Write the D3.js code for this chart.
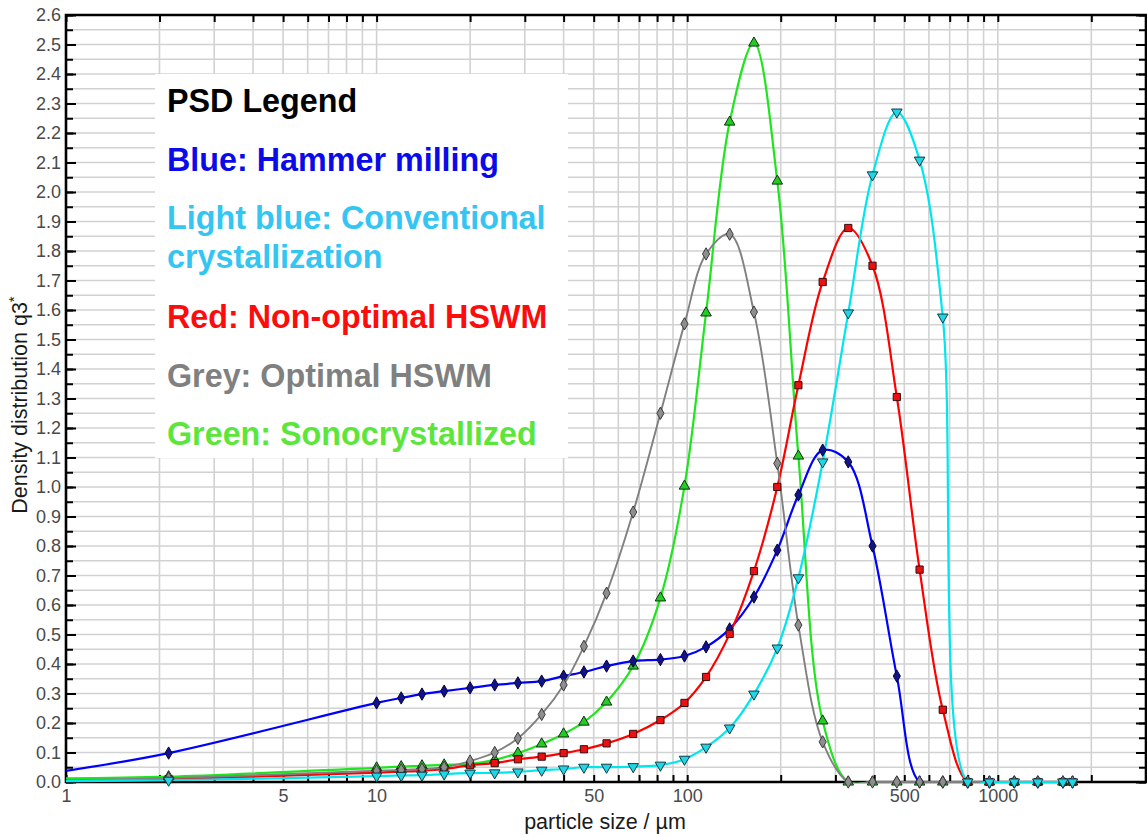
<!DOCTYPE html>
<html><head><meta charset="utf-8">
<script src="https://cdn.jsdelivr.net/npm/d3@7"></script>
<style>body{margin:0;background:#fff} svg{display:block}</style>
</head><body>
<svg id="c" width="1147" height="837"></svg>
<script>
// particle size classes (µm)
const sizes = [1, 2.14, 10, 12, 14, 16.5, 20, 24, 28.5, 34, 40, 46.5, 55, 67, 82, 98, 115, 137, 164, 195, 228, 273, 330, 395, 473, 560, 665, 800, 940, 1130, 1345, 1620, 1740];
// density distribution q3* per series
const hammer = [0.038, 0.098, 0.268, 0.285, 0.298, 0.308, 0.319, 0.329, 0.336, 0.342, 0.359, 0.373, 0.393, 0.41, 0.415, 0.427, 0.458, 0.519, 0.627, 0.786, 0.973, 1.125, 1.085, 0.80, 0.359, 0, 0, 0, 0, 0, 0, 0, 0];
const conventional = [0.003, 0.006, 0.02, 0.022, 0.023, 0.027, 0.03, 0.031, 0.034, 0.04, 0.044, 0.05, 0.05, 0.052, 0.057, 0.077, 0.118, 0.183, 0.298, 0.454, 0.692, 1.085, 1.59, 2.058, 2.271, 2.108, 1.576, 0, 0, 0, 0, 0, 0];
const nonOptimal = [0.005, 0.01, 0.032, 0.035, 0.038, 0.044, 0.057, 0.064, 0.077, 0.086, 0.098, 0.111, 0.131, 0.163, 0.21, 0.268, 0.356, 0.502, 0.715, 1.0, 1.345, 1.695, 1.878, 1.75, 1.305, 0.72, 0.245, 0, 0, 0, 0, 0, 0];
const optimal = [0.005, 0.013, 0.038, 0.041, 0.044, 0.05, 0.071, 0.10, 0.148, 0.229, 0.329, 0.46, 0.64, 0.915, 1.25, 1.553, 1.79, 1.857, 1.593, 1.08, 0.532, 0.136, 0, 0, 0, 0, 0, 0, 0, 0, 0, 0, 0];
const sono = [0.012, 0.018, 0.048, 0.052, 0.055, 0.058, 0.061, 0.075, 0.098, 0.129, 0.163, 0.203, 0.271, 0.393, 0.624, 1.003, 1.59, 2.237, 2.505, 2.037, 1.105, 0.207, 0, 0, 0, 0, 0, 0, 0, 0, 0, 0, 0];

const xLabelValues = [1, 5, 10, 50, 100, 500, 1000];
const yMajorTicks = d3.range(0, 27).map(i => i / 10);
const yMinorTicks = d3.range(0, 53).map(i => i / 20);
const legendLines = [
  {text: "PSD Legend", color: "#000000"},
  {text: "Blue: Hammer milling", color: "#0b0bea"},
  {text: "Light blue: Conventional", color: "#35c5f2"},
  {text: "crystallization", color: "#35c5f2"},
  {text: "Red: Non-optimal HSWM", color: "#fb0d0d"},
  {text: "Grey: Optimal HSWM", color: "#808080"},
  {text: "Green: Sonocrystallized", color: "#5ce63c"}
];

const series = [
  {name: "Sonocrystallized", vals: sono, line: "#1ee51e", fill: "#22cc22", stroke: "#103010", sym: "up"},
  {name: "Hammer milling", vals: hammer, line: "#0000ff", fill: "#12128a", stroke: "#050530", sym: "diamond"},
  {name: "Non-optimal HSWM", vals: nonOptimal, line: "#ff0000", fill: "#ee1010", stroke: "#301010", sym: "square"},
  {name: "Optimal HSWM", vals: optimal, line: "#808080", fill: "#8e8e8e", stroke: "#3a3a3a", sym: "diamond"},
  {name: "Conventional crystallization", vals: conventional, line: "#00e6ee", fill: "#20d6e6", stroke: "#103a44", sym: "down"}
];

const svg = d3.select("#c");
const L = 66, R = 1146, T = 15, B = 782;
const x = d3.scaleLog().domain([1, 3000]).range([L, R]);
const y = d3.scaleLinear().domain([0, 2.6]).range([B, T]);
const FONT = "Liberation Sans, Arial, sans-serif";

// all 1..9 x decade positions
const xMinor = [];
[1, 10, 100, 1000].forEach(d => { for (let k = 1; k <= 9; k++) { const v = k * d; if (v <= 3000) xMinor.push(v); } });

// grid
const grid = svg.append("g").attr("stroke", "#d2d2d2").attr("stroke-width", 1.6);
grid.selectAll(".gv").data(xMinor.filter(v => v > 1 && v < 3000)).enter().append("line")
  .attr("x1", d => x(d)).attr("x2", d => x(d)).attr("y1", T).attr("y2", B);
grid.selectAll(".gh").data(yMinorTicks.filter(v => v > 0 && v < 2.6)).enter().append("line")
  .attr("x1", L).attr("x2", R).attr("y1", d => y(d)).attr("y2", d => y(d));

// legend box (covers grid)
svg.append("rect").attr("x", 155).attr("y", 74).attr("width", 413).attr("height", 384).attr("fill", "#fff");
const lgBase = [112, 171, 229, 268, 328, 387, 445];
svg.append("g").selectAll("text").data(legendLines).enter().append("text")
  .attr("x", 167).attr("y", (d, i) => lgBase[i])
  .attr("font-family", FONT).attr("font-weight", "bold")
  .attr("font-size", 32.3).attr("fill", d => d.color).text(d => d.text);

// axes
const axStyle = g => {
  g.select(".domain").remove();
  g.selectAll(".tick line").attr("stroke", "#000").attr("stroke-width", 2);
  g.selectAll(".tick text").attr("font-family", FONT).attr("font-size", 18).attr("fill", "#4a4a4a");
};
const fmtX = v => xLabelValues.includes(v) ? String(v) : "";
svg.append("g").attr("transform", `translate(0,${B})`)
  .call(d3.axisBottom(x).tickValues(xMinor).tickSize(-7).tickPadding(7).tickFormat(fmtX)).call(axStyle);
svg.append("g").attr("transform", `translate(0,${T})`)
  .call(d3.axisTop(x).tickValues(xMinor).tickSize(-7).tickFormat("")).call(axStyle);
svg.append("g").attr("transform", `translate(${L},0)`)
  .call(d3.axisLeft(y).tickValues(yMinorTicks).tickSize(-7).tickFormat("")).call(axStyle);
svg.append("g").attr("transform", `translate(${L},0)`)
  .call(d3.axisLeft(y).tickValues(yMajorTicks).tickSize(-10).tickPadding(5).tickFormat(d3.format(".1f"))).call(axStyle);
svg.append("g").attr("transform", `translate(${R},0)`)
  .call(d3.axisRight(y).tickValues(yMinorTicks).tickSize(-7).tickFormat("")).call(axStyle);
svg.append("g").attr("transform", `translate(${R},0)`)
  .call(d3.axisRight(y).tickValues(yMajorTicks).tickSize(-10).tickFormat("")).call(axStyle);

// frame
svg.append("path").attr("d", `M${L},${T}H${R}V${B}H${L}Z`).attr("fill", "none").attr("stroke", "#000").attr("stroke-width", 2.6);

// axis titles
svg.append("text").attr("x", 605).attr("y", 829).attr("text-anchor", "middle")
  .attr("font-family", FONT).attr("font-size", 21.5).attr("fill", "#1a1a1a")
  .text("particle size / µm");
const yt = svg.append("text").attr("transform", "translate(27,405) rotate(-90)").attr("text-anchor", "middle")
  .attr("font-family", FONT).attr("font-size", 21.5).attr("fill", "#1a1a1a");
yt.append("tspan").text("Density distribution q3");
yt.append("tspan").attr("font-size", 15).attr("baseline-shift", "super").text("*");

// clip
svg.append("clipPath").attr("id", "clip").append("rect").attr("x", L).attr("y", T).attr("width", R - L).attr("height", B - T + 1);

const line = d3.line().x(d => x(d.s)).y(d => y(d.v)).curve(d3.curveCatmullRom.alpha(0.5));
const symPath = {
  up: d3.symbol().type(d3.symbolTriangle).size(48)(),
  down: d3.symbol().type(d3.symbolTriangle).size(48)(),
  square: d3.symbol().type(d3.symbolSquare).size(52)(),
  diamond: d3.symbol().type(d3.symbolDiamond).size(44)()
};

series.forEach(sr => {
  const pts = sizes.map((s, i) => ({s, v: sr.vals[i]}));
  svg.append("path").datum(pts).attr("clip-path", "url(#clip)")
    .attr("fill", "none").attr("stroke", sr.line).attr("stroke-width", sr.line === "#808080" ? 1.9 : 2.2)
    .attr("d", line);
});
series.forEach(sr => {
  const pts = sizes.map((s, i) => ({s, v: sr.vals[i]})).slice(1);
  svg.append("g").selectAll("path").data(pts).enter().append("path")
    .attr("d", symPath[sr.sym])
    .attr("transform", d => `translate(${x(d.s)},${y(d.v)})` + (sr.sym === "down" ? " rotate(180)" : ""))
    .attr("fill", sr.fill).attr("stroke", sr.stroke).attr("stroke-width", 1);
});
</script>
</body></html>
